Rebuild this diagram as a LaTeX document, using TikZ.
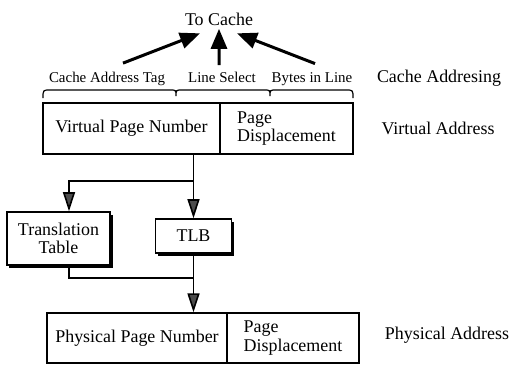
\documentclass[tikz,border=0pt]{standalone}
\usepackage{fontspec}
\setmainfont{Liberation Serif}
\usetikzlibrary{arrows.meta,shadows}
\tikzset{
  field/.style={draw, line width=1.4bp, minimum height=51bp, inner sep=0pt},
  unit/.style={draw, line width=1.6bp, fill=white, align=center, inner sep=0pt,
    drop shadow={shadow xshift=2.5bp, shadow yshift=-2.5bp, fill=black, opacity=1}},
  wire/.style={line width=1.6bp},
  flow/.style={wire, -{Triangle[length=19bp,width=12bp,fill=black!70]}},
  fetch/.style={line width=3bp, -{Triangle[length=20bp,width=16bp]}},
  fieldlabel/.style={font=\fontsize{15}{16}\selectfont, anchor=base},
}
\begin{document}
\begin{tikzpicture}[x=1bp, y=-1bp, font=\fontsize{18}{18.5}\selectfont]
  \useasboundingbox (0,0) rectangle (512,366);

  % cache addressing
  \node (tocache) at (219,19) {To Cache};
  \node[fieldlabel] (addrtag) at (107,82) {Cache Address Tag};
  \node[fieldlabel] (linesel) at (222,82) {Line Select};
  \node[fieldlabel] (bytes) at (312,82) {Bytes in Line};
  \node[anchor=base] (cacheaddr) at (439,82) {Cache Addresing};

  \draw[fetch] ([xshift=16bp,yshift=5bp]addrtag.north) -- ([xshift=-19bp,yshift=-4.5bp]tocache.south);
  \draw[fetch] ([xshift=-3bp,yshift=3bp]linesel.north) -- (tocache.south);
  \draw[fetch] ([xshift=3bp,yshift=5bp]bytes.north) -- ([xshift=18bp,yshift=-4.5bp]tocache.south);

  \draw[line width=1.2bp] (43,98) .. controls (43,90) .. (50,90) -- (170,90)
    .. controls (176,90) .. (176,96) .. controls (176,90) .. (182,90) -- (264,90)
    .. controls (270,90) .. (270,96) .. controls (270,90) .. (276,90) -- (346,90)
    .. controls (353,90) .. (353,98);

  % virtual address
  \node[field, minimum width=177bp] (vpn) at (131.5,128.5) {Virtual Page Number};
  \node[field, minimum width=133bp, align=left] (vpd) at (286.5,128.5) {Page\\Displacement};
  \node (vaddr) at (438,128) {Virtual Address};

  % translation
  \node[unit, minimum width=103bp, minimum height=53bp] (ttable) at (58.5,238.5) {Translation\\Table};
  \node[unit, minimum width=76bp, minimum height=34bp] (tlb) at (193.5,236) {TLB};

  % physical address
  \node[field, minimum width=180bp, minimum height=50bp] (ppn) at (137,338) {Physical Page Number};
  \node[field, minimum width=132bp, minimum height=50bp, align=left] (ppd) at (293,338) {Page\\Displacement};
  \node (paddr) at (447,335) {Physical Address};

  \coordinate (fork) at (193.5,181);
  \coordinate (merge) at (193.5,278);
  \draw[wire] (vpn.south -| fork) -- (fork);
  \draw[flow] (fork) -| ([xshift=10.5bp]ttable.north);
  \draw[flow] (fork) -- (tlb.north);
  \draw[wire] ([xshift=10.5bp]ttable.south) |- (merge);
  \draw[wire] (tlb.south) -- (merge);
  \draw[flow] (merge) -- (ppn.north -| merge);
\end{tikzpicture}
\end{document}
